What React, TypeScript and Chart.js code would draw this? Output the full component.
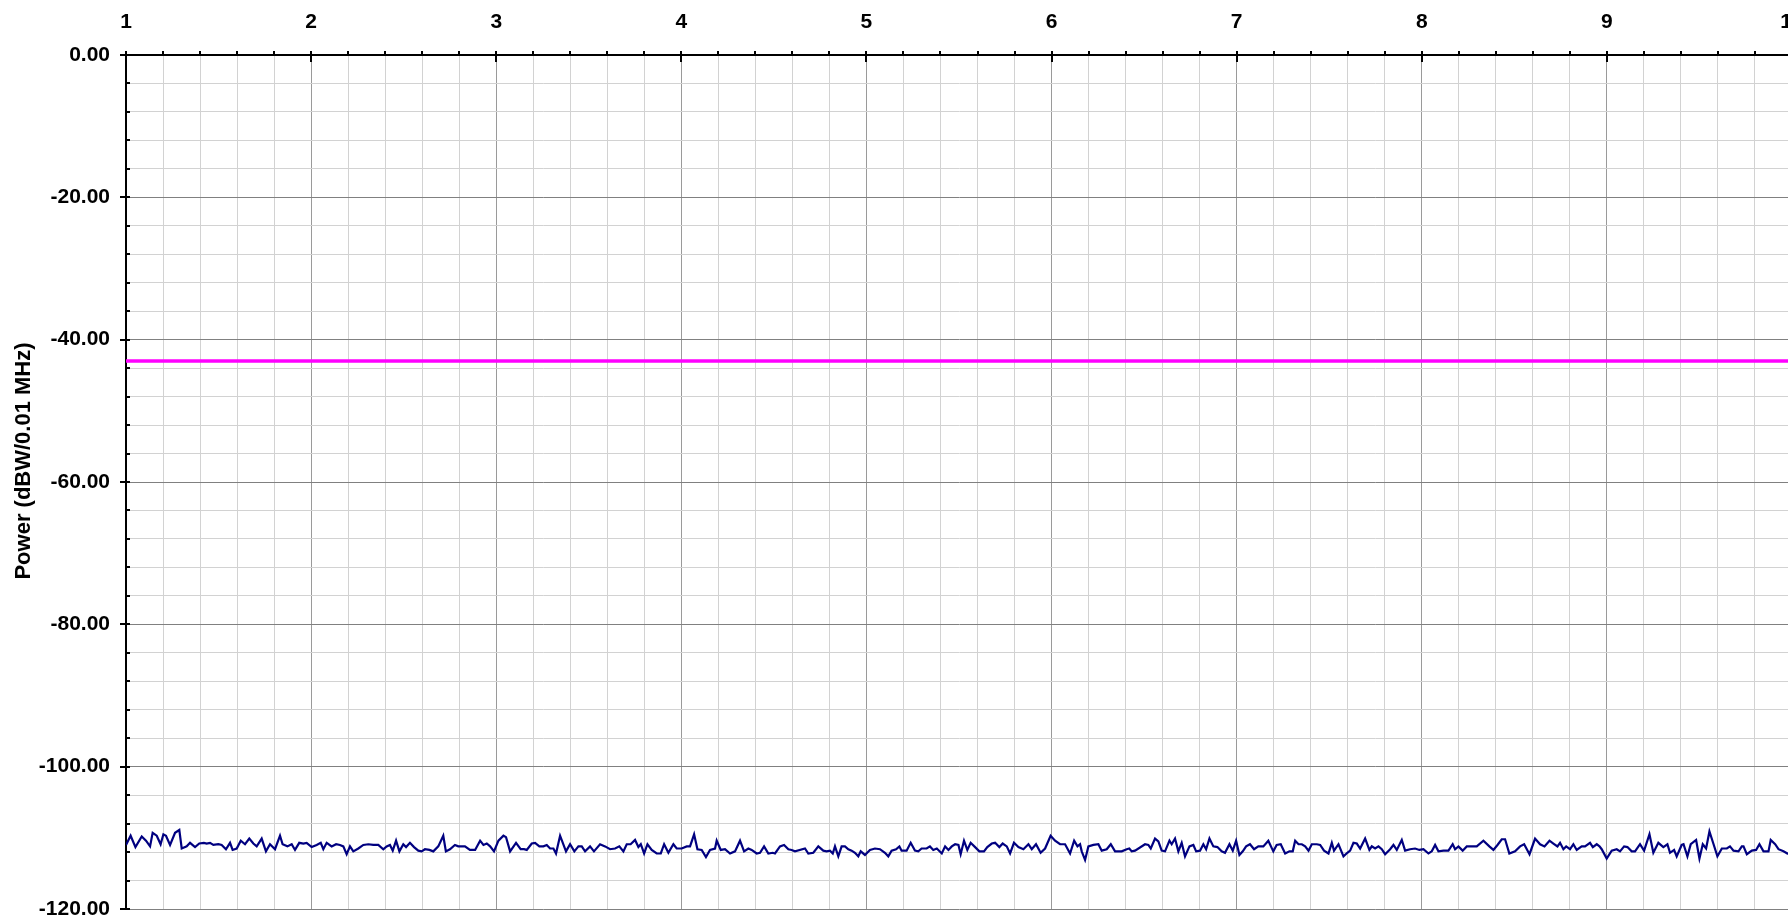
import { useEffect, useRef } from "react";
import { Chart, registerables } from "chart.js";

Chart.register(...registerables);

const X_MIN = 1;
const X_MAX = 10;
const X_MINOR_STEP = 0.2;
const Y_MIN = -120;
const Y_MAX = 0;
const Y_MINOR_STEP = 4;
const Y_MAJOR_STEP = 20;
const Y_TITLE = "Power (dBW/0.01 MHz)";

const LIMIT_FREQ = [1, 10];
const LIMIT_POWER = [-43, -43];

// [frequency, power dBW]
const NOISE_POINTS: [number, number][] = [
  [1.000,-111.0],[1.025,-109.7],[1.051,-111.3],[1.085,-109.8],[1.108,-110.4],[1.130,-111.2],[1.144,-109.3],[1.166,-109.7],[1.187,-110.9],[1.202,-109.5],
  [1.216,-109.7],[1.238,-111.0],[1.265,-109.3],[1.288,-108.9],[1.301,-111.5],[1.328,-111.2],[1.346,-110.7],[1.373,-111.3],[1.396,-110.8],[1.421,-110.7],
  [1.436,-110.8],[1.454,-110.7],[1.472,-111.0],[1.499,-110.9],[1.517,-111.0],[1.540,-111.6],[1.562,-110.7],[1.576,-111.7],[1.598,-111.5],[1.620,-110.4],
  [1.643,-110.9],[1.666,-110.1],[1.688,-110.8],[1.706,-111.2],[1.733,-110.1],[1.756,-111.9],[1.778,-110.9],[1.805,-111.6],[1.832,-109.7],[1.846,-110.9],
  [1.872,-111.2],[1.895,-110.9],[1.913,-111.7],[1.936,-110.7],[1.958,-110.8],[1.976,-110.7],[2.003,-111.3],[2.030,-111.0],[2.052,-110.7],[2.066,-111.6],
  [2.084,-110.7],[2.111,-111.2],[2.135,-110.9],[2.156,-111.0],[2.174,-111.2],[2.192,-112.3],[2.210,-111.2],[2.228,-111.9],[2.255,-111.5],[2.282,-111.0],
  [2.309,-110.9],[2.336,-111.0],[2.363,-111.0],[2.390,-111.6],[2.408,-111.2],[2.426,-111.0],[2.441,-111.8],[2.459,-110.4],[2.477,-111.9],[2.498,-110.9],
  [2.513,-111.3],[2.534,-110.7],[2.556,-111.3],[2.579,-111.8],[2.597,-111.9],[2.615,-111.6],[2.639,-111.7],[2.660,-111.9],[2.687,-111.2],[2.714,-109.7],
  [2.728,-111.9],[2.750,-111.6],[2.777,-111.0],[2.795,-111.2],
  [2.831,-111.2],[2.858,-111.7],[2.886,-111.7],[2.913,-110.4],[2.931,-111.0],[2.949,-110.8],[2.967,-111.2],[2.988,-111.9],[3.012,-110.4],[3.039,-109.7],
  [3.053,-109.9],[3.075,-111.9],[3.107,-110.7],[3.132,-111.6],[3.150,-111.6],[3.165,-111.7],[3.192,-110.8],[3.210,-110.7],[3.233,-111.2],[3.255,-111.2],
  [3.273,-111.0],[3.291,-111.5],[3.309,-111.5],[3.323,-112.2],[3.345,-109.7],[3.377,-111.9],[3.399,-110.9],[3.422,-111.9],[3.444,-111.2],[3.462,-111.2],
  [3.480,-111.9],[3.507,-111.2],[3.528,-111.9],[3.561,-110.9],[3.588,-111.2],[3.615,-111.6],[3.642,-111.5],[3.665,-111.2],[3.687,-111.9],[3.705,-110.9],
  [3.726,-110.9],[3.750,-110.3],[3.768,-111.3],[3.781,-110.9],[3.799,-112.2],[3.817,-110.9],[3.840,-111.7],[3.867,-112.2],[3.889,-112.2],[3.907,-110.9],
  [3.930,-112.1],[3.957,-110.9],[3.975,-111.5],[4.002,-111.5],[4.029,-111.2],[4.047,-111.2],[4.069,-109.5],[4.087,-111.6],[4.110,-111.7],[4.133,-112.7],
  [4.155,-111.7],[4.182,-111.5],[4.191,-110.4],[4.213,-111.7],[4.236,-111.6],[4.263,-112.2],[4.290,-111.9],[4.317,-110.4],[4.339,-111.9],[4.362,-111.5],
  [4.380,-111.7],[4.407,-112.2],[4.425,-112.1],[4.447,-111.2],[4.470,-112.2],[4.494,-112.1],[4.506,-112.2],[4.533,-111.2],[4.555,-111.0],[4.578,-111.6],
  [4.596,-111.7],[4.614,-111.9],
  [4.668,-111.5],[4.686,-112.2],[4.713,-112.1],[4.740,-111.2],[4.767,-111.8],[4.785,-111.9],[4.803,-111.8],[4.818,-112.2],[4.830,-111.2],[4.848,-112.6],
  [4.866,-111.2],[4.884,-111.2],[4.902,-111.6],[4.920,-111.8],[4.938,-112.1],[4.956,-112.6],[4.969,-111.9],[4.992,-112.4],[5.019,-111.7],[5.046,-111.5],
  [5.073,-111.6],[5.100,-112.1],[5.118,-112.6],[5.136,-111.8],[5.160,-111.6],[5.178,-111.2],[5.190,-111.8],[5.217,-111.8],[5.239,-110.7],[5.262,-111.8],
  [5.280,-111.9],[5.298,-111.5],[5.325,-111.5],[5.343,-111.2],[5.361,-111.7],[5.380,-111.5],[5.407,-112.2],[5.425,-111.2],[5.443,-111.7],[5.461,-111.2],
  [5.479,-110.9],[5.497,-111.0],[5.509,-112.3],[5.527,-110.4],[5.545,-111.7],[5.563,-110.7],[5.587,-111.3],[5.610,-111.9],[5.635,-111.9],[5.653,-111.3],
  [5.677,-110.8],[5.695,-110.7],[5.718,-111.3],[5.736,-110.8],[5.758,-111.2],[5.776,-112.2],[5.797,-110.7],[5.821,-111.3],[5.848,-111.6],[5.875,-110.9],
  [5.893,-111.6],[5.916,-110.9],[5.941,-112.1],[5.965,-111.5],[5.995,-109.7],[6.019,-110.4],[6.046,-110.9],[6.073,-110.9],[6.100,-112.2],[6.122,-110.4],
  [6.140,-111.2],[6.154,-110.9],[6.163,-111.9],[6.181,-113.1],[6.199,-111.2],[6.226,-111.0],[6.253,-110.9],[6.271,-111.8],[6.298,-111.6],[6.320,-110.9],
  [6.343,-111.9],[6.379,-111.9],[6.406,-111.6],[6.420,-111.5],[6.433,-111.9],[6.451,-111.8],
  [6.505,-110.9],[6.523,-111.0],[6.536,-111.5],[6.559,-110.1],[6.577,-110.5],[6.595,-111.8],[6.613,-111.9],[6.637,-110.4],[6.649,-110.9],[6.667,-110.1],
  [6.685,-111.9],[6.703,-110.7],[6.721,-112.6],[6.745,-111.2],[6.766,-111.0],[6.781,-111.9],[6.802,-111.8],[6.820,-110.9],[6.835,-111.6],[6.853,-110.1],
  [6.874,-111.2],[6.896,-111.3],[6.919,-111.9],[6.937,-112.1],[6.961,-110.9],[6.979,-111.8],[6.997,-110.4],[7.015,-112.4],[7.033,-111.9],[7.051,-111.2],
  [7.072,-110.9],[7.094,-111.6],[7.117,-111.2],[7.144,-111.2],[7.171,-110.4],[7.198,-111.9],[7.216,-111.0],[7.238,-110.9],[7.262,-112.2],[7.285,-111.9],
  [7.303,-111.9],[7.316,-110.4],[7.334,-110.9],[7.352,-110.9],[7.370,-111.2],[7.388,-111.8],[7.406,-110.9],[7.433,-110.9],[7.451,-111.0],[7.472,-111.8],
  [7.496,-112.2],[7.514,-110.7],[7.526,-111.8],[7.550,-110.9],[7.577,-112.6],[7.598,-112.1],[7.613,-111.8],[7.631,-110.7],[7.649,-110.8],[7.667,-111.5],
  [7.694,-110.1],[7.717,-111.7],[7.730,-111.2],[7.748,-111.5],[7.766,-111.2],[7.784,-111.6],[7.802,-112.3],[7.829,-111.6],[7.847,-111.0],[7.865,-111.7],
  [7.892,-110.3],[7.910,-111.8],[7.937,-111.6],[7.964,-111.5],[7.987,-111.7],[8.009,-111.6],[8.036,-112.2],[8.054,-111.9],[8.072,-111.0],[8.090,-111.9],
  [8.117,-111.8],[8.144,-111.8],[8.167,-110.9],[8.180,-111.6],[8.198,-111.2],[8.221,-111.8],[8.243,-111.2],[8.270,-111.2],[8.297,-111.2],
  [8.333,-110.4],[8.365,-111.2],[8.387,-111.7],[8.409,-111.0],[8.432,-110.2],[8.450,-110.2],[8.473,-112.2],[8.504,-111.9],[8.531,-111.2],[8.553,-110.9],
  [8.582,-112.3],[8.612,-110.1],[8.639,-110.9],[8.663,-111.2],[8.690,-110.4],[8.711,-110.8],[8.733,-111.2],[8.747,-110.7],[8.765,-111.6],[8.780,-111.2],
  [8.801,-111.6],[8.819,-110.9],[8.837,-111.7],[8.864,-111.2],[8.882,-111.2],[8.909,-110.7],[8.924,-111.3],[8.945,-110.9],[8.960,-111.2],[8.972,-111.6],
  [8.999,-112.9],[9.026,-111.8],[9.053,-111.6],[9.071,-111.9],[9.093,-111.2],[9.111,-111.3],[9.134,-111.9],[9.152,-111.9],[9.179,-110.9],[9.201,-111.8],
  [9.230,-109.5],[9.251,-112.1],[9.278,-110.7],[9.305,-111.3],[9.327,-110.9],[9.341,-112.1],[9.363,-111.7],[9.377,-112.6],[9.404,-111.0],[9.414,-110.9],
  [9.435,-112.6],[9.453,-110.9],[9.482,-110.3],[9.500,-112.9],[9.518,-110.9],[9.536,-111.5],[9.554,-109.1],[9.575,-110.8],[9.597,-112.6],[9.621,-111.5],
  [9.648,-111.5],[9.665,-111.2],[9.684,-111.8],[9.711,-111.9],[9.729,-111.2],[9.738,-111.2],[9.756,-112.3],[9.783,-111.8],[9.806,-111.7],[9.824,-110.9],
  [9.846,-111.9],[9.873,-111.9],[9.885,-110.3],[9.909,-110.9],[9.927,-111.6],[9.954,-111.9],[9.975,-112.2],[10.000,-112.1],
];

const FONT = "'Liberation Sans', Arial, Helvetica, sans-serif";

const isMajorX = (v: number) => Math.abs(v - Math.round(v)) < 1e-6;
const isMajorY = (v: number) => Math.abs(v / Y_MAJOR_STEP - Math.round(v / Y_MAJOR_STEP)) < 1e-6;

const axisDecor = {
  id: "axisDecor",
  afterDraw(chart: any) {
    const { ctx, chartArea, scales } = chart;
    const xs = scales.x;
    const ys = scales.y;
    ctx.save();
    ctx.strokeStyle = "#000";
    ctx.lineWidth = 2;
    ctx.beginPath();
    for (const t of ys.ticks) {
      const py = Math.round(ys.getPixelForValue(t.value));
      const major = isMajorY(t.value);
      ctx.moveTo(chartArea.left - (major ? 6 : 0), py);
      ctx.lineTo(chartArea.left + 4, py);
    }
    for (const t of xs.ticks) {
      const px = Math.round(xs.getPixelForValue(t.value));
      const major = isMajorX(t.value);
      ctx.moveTo(px, chartArea.top - 4);
      ctx.lineTo(px, chartArea.top + (major ? 7 : 0));
    }
    ctx.stroke();
    ctx.translate(24, 461);
    ctx.rotate(-Math.PI / 2);
    ctx.font = `bold 22px ${FONT}`;
    ctx.fillStyle = "#000";
    ctx.textAlign = "center";
    ctx.textBaseline = "middle";
    ctx.fillText(Y_TITLE, 0, 0);
    ctx.restore();
  },
};

export default function App() {
  const ref = useRef<HTMLCanvasElement | null>(null);

  useEffect(() => {
    if (!ref.current) return;
    const tickFont = { family: FONT, size: 21, weight: "bold" as const };
    const chart = new Chart(ref.current, {
      type: "line",
      data: {
        datasets: [
          {
            label: "Noise",
            data: NOISE_POINTS.map(([x, y]) => ({ x, y })),
            borderColor: "#000080",
            borderWidth: 2.2,
            pointRadius: 0,
            tension: 0,
            fill: false,
          },
          {
            label: "Limit",
            data: LIMIT_FREQ.map((x, i) => ({ x, y: LIMIT_POWER[i] })),
            borderColor: "#ff00ff",
            borderWidth: 3.5,
            pointRadius: 0,
            fill: false,
          },
        ],
      },
      options: {
        responsive: false,
        animation: false,
        devicePixelRatio: 1,
        events: [],
        layout: { padding: { left: 0, top: 0, right: 8, bottom: 8 } },
        plugins: { legend: { display: false }, tooltip: { enabled: false } },
        scales: {
          x: {
            type: "linear",
            position: "top",
            min: X_MIN,
            max: X_MAX,
            afterFit: (s: any) => {
              s.height = 55;
              s.paddingLeft = 0;
              s.paddingRight = 0;
              s.paddingTop = 0;
              s.paddingBottom = 0;
            },
            ticks: {
              stepSize: X_MINOR_STEP,
              autoSkip: false,
              maxRotation: 0,
              padding: 20,
              color: "#000",
              font: tickFont,
              callback: (v: any) => (isMajorX(Number(v)) ? String(Math.round(Number(v))) : ""),
            },
            grid: {
              drawTicks: false,
              lineWidth: 1,
              color: (c: any) => (c.tick && isMajorX(c.tick.value) ? "#9a9a9a" : "#d2d2d2"),
            },
            border: { display: true, color: "#000", width: 2 },
          },
          y: {
            type: "linear",
            position: "left",
            min: Y_MIN,
            max: Y_MAX,
            afterFit: (s: any) => {
              s.width = 126;
              s.paddingLeft = 0;
              s.paddingRight = 0;
              s.paddingTop = 0;
              s.paddingBottom = 0;
            },
            ticks: {
              stepSize: Y_MINOR_STEP,
              autoSkip: false,
              padding: 16,
              color: "#000",
              font: tickFont,
              callback: (v: any) => (isMajorY(Number(v)) ? Number(v).toFixed(2) : ""),
            },
            grid: {
              drawTicks: false,
              lineWidth: 1,
              color: (c: any) => (c.tick && isMajorY(c.tick.value) ? "#808080" : "#d2d2d2"),
            },
            border: { display: true, color: "#000", width: 2 },
          },
        },
      },
      plugins: [axisDecor],
    });
    return () => chart.destroy();
  }, []);

  return (
    <div
      style={{
        position: "fixed",
        left: 0,
        top: 0,
        width: 1788,
        height: 917,
        overflow: "hidden",
        background: "#fff",
      }}
    >
      <canvas ref={ref} width={1800} height={917} style={{ display: "block" }} />
    </div>
  );
}
